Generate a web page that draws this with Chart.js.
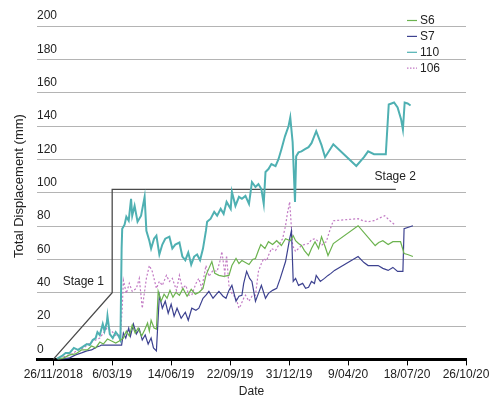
<!DOCTYPE html>
<html>
<head>
<meta charset="utf-8">
<script src="https://cdn.jsdelivr.net/npm/chart.js@4/dist/chart.umd.min.js"></script>
<style>
  html, body { margin: 0; padding: 0; background: #fff; }
  #wrap { width: 496px; height: 398px; }
</style>
</head>
<body>
<div id="wrap"><canvas id="c" width="496" height="398"></canvas></div>
<script>
// Survey days are counted from 26/11/2018 (day 0).
const tickDays = [0, 100, 200, 300, 400, 500, 600, 700];
const tickLabels = ['26/11/2018', '6/03/19', '14/06/19', '22/09/19', '31/12/19', '9/04/20', '18/07/20', '26/10/20'];
const yTicks = [0, 20, 40, 60, 80, 100, 120, 140, 160, 180, 200];

// Monitoring point S6
const daysS6 = [8,18,28,38,48,58,65,72,79,85,92,99,106,112,119,124,129,134,139,144,150,155,160,163,166,171,175,178,183,188,193,198,203,208,214,220,227,234,241,247,254,259,264,269,274,281,289,298,303,310,315,320,326,332,338,343,348,352,359,365,372,379,387,394,402,407,411,416,421,426,433,438,444,450,455,461,466,475,517,546,552,559,568,576,589,595,601,610];
const valsS6 = [0,0.9,2.7,3.3,5.7,5.7,8.0,6.9,10.4,9.2,12.2,11.0,9.8,11.0,12.8,17.0,14.0,20.6,15.8,18.8,14.0,17.6,21.8,17.0,23.5,18.8,18.2,40.8,34.9,39.1,36.7,41.4,37.3,40.2,38.5,42.6,37.9,42.0,39.1,40.2,42.6,50.4,54.6,58.7,51.6,50.4,49.8,50.4,56.3,60.5,57.5,59.3,58.1,56.9,59.9,60.5,65.3,68.9,66.5,70.6,68.9,71.2,68.3,72.4,71.2,74.2,71.2,69.5,68.3,65.3,62.3,66.5,70.6,66.5,73.6,67.7,62.3,69.5,80.2,68.3,70.1,71.2,68.9,70.6,70.6,63.5,62.9,61.7];

// Monitoring point S7
const daysS7 = [8,18,28,38,48,57,65,74,79,82,116,119,123,128,131,136,141,146,151,156,161,166,170,175,180,185,190,195,200,205,210,217,224,229,235,242,247,254,259,264,271,278,281,288,293,298,303,310,315,320,323,328,333,337,343,348,353,360,365,372,379,385,394,401,404,407,411,416,423,428,433,438,443,446,453,460,466,471,477,517,527,534,551,559,568,576,584,593,595,610];
const valsS7 = [0,0.3,0.9,2.7,3.9,5.1,5.7,7.5,8.0,8.6,8.6,15.8,12.8,18.8,14.0,21.2,15.2,18.2,11.6,14.6,9.2,12.8,6.9,5.1,38.5,30.7,34.9,27.7,33.1,25.9,30.7,24.7,28.3,23.5,30.7,29.5,30.7,36.7,38.5,40.8,36.7,39.6,40.8,37.9,36.7,41.4,44.4,34.9,37.9,38.5,45.6,52.8,48.6,46.8,34.9,39.6,44.4,36.7,39.6,41.4,42.6,48.6,58.7,72.4,77.2,46.8,48.6,44.4,45.6,42.6,43.2,46.8,45.6,50.4,46.8,48.6,50.4,51.6,53.4,61.7,58.1,56.3,56.3,54.6,53.4,55.2,52.8,52.8,78.4,80.2];

// Monitoring point 110
const days110 = [6,15,21,28,35,42,50,57,62,67,72,75,79,84,87,91,92,96,101,106,111,114,116,117,121,124,128,132,134,138,143,149,155,158,163,166,171,175,180,185,190,197,202,207,214,219,224,229,234,239,244,249,254,259,261,267,273,278,284,289,294,301,303,309,315,320,326,332,337,343,348,353,357,360,365,370,377,382,387,393,399,402,406,410,412,416,421,427,433,438,446,455,461,475,514,527,534,544,564,569,578,584,590,593,596,601,606];
const vals110 = [0.3,2.1,3.9,3.9,6.9,5.7,7.5,9.2,8.6,11.6,12.8,16.4,14.6,21.2,17.0,22.4,26.0,15.2,12.8,16.4,14.0,11.6,66.5,78.4,80.8,85.6,83.2,96.3,86.2,92.1,82.6,86.2,97.5,77.2,71.2,66.5,72.4,74.2,62.9,68.9,72.4,73.6,66.5,68.9,70.1,61.7,59.5,64.1,56.9,61.7,62.9,59.5,66.5,77.2,82.6,84.4,88.5,86.2,90.3,87.3,94.5,90.3,100.5,92.1,97.5,96.3,98.1,93.3,106.4,103.4,105.2,102.2,93.3,112.4,114.2,117.2,116.0,120.1,126.1,133.8,139.8,145.2,130.3,94.5,121.9,124.2,124.8,126.1,127.3,129.7,136.9,128.5,121.3,129.1,116.0,121.3,124.8,123.1,123.1,152.9,154.1,151.1,143.9,137.9,154.1,153.5,152.3];

// Monitoring point 106
const days106 = [11,21,32,42,52,62,72,79,85,91,99,107,114,117,119,124,129,134,141,146,151,158,163,168,175,180,185,192,197,202,209,214,219,225,230,235,242,247,252,259,264,271,278,283,286,291,294,298,303,310,315,318,323,326,332,337,343,348,353,357,362,365,370,377,382,389,394,397,401,406,411,416,421,426,433,438,444,450,455,460,463,470,475,517,525,534,544,551,562,571,579];
const vals106 = [0.3,2.1,3.3,5.7,6.9,9.8,11.6,12.8,15.8,18.8,17.0,14.0,14.6,30.7,47.4,39.6,45.6,40.8,42.6,48.6,30.7,48.6,56.3,52.8,42.6,46.8,44.4,50.4,46.8,48.6,41.4,50.4,42.6,44.4,38.5,38.5,45.6,48.6,42.6,56.3,49.8,53.4,52.8,59.3,64.7,51.6,62.3,44.4,39.6,36.7,30.7,32.5,36.7,38.5,34.9,37.9,38.5,52.8,57.5,60.5,59.3,62.3,66.5,65.3,68.3,72.4,80.2,87.3,94.5,68.3,64.7,66.5,68.3,68.9,69.5,71.8,72.4,70.6,68.3,70.1,70.6,78.4,83.2,84.4,83.2,82.6,83.2,84.4,86.2,83.2,80.8];

// Outline separating Stage 1 and Stage 2
const stageDays = [0, 100, 100, 581];
const stageVals = [0, 40, 102, 102];

function pairs(xs, ys) {
  const n = Math.min(xs.length, ys.length);
  const out = [];
  for (let i = 0; i < n; i++) out.push({ x: xs[i], y: ys[i] });
  return out;
}

const FONT = "'Liberation Sans', Arial, Helvetica, sans-serif";
Chart.defaults.font.family = FONT;
Chart.defaults.font.size = 12;
Chart.defaults.color = '#222';

function series(label, xs, ys, color, width, dash) {
  return {
    label, data: pairs(xs, ys), borderColor: color, backgroundColor: color,
    borderWidth: width, borderDash: dash || [], pointRadius: 0, tension: 0, fill: false
  };
}

const datasets = [
  series('S6', daysS6, valsS6, '#6cb34f', 1.2),
  series('S7', daysS7, valsS7, '#3d4290', 1.2),
  series('110', days110, vals110, '#4fb0b2', 2),
  series('106', days106, vals106, '#c27ac4', 1.2, [2, 2]),
  Object.assign(series('Stages', stageDays, stageVals, '#4a4a4a', 1.3), { inLegend: false })
];

const overlay = {
  id: 'overlay',
  afterDraw(chart) {
    const ctx = chart.ctx;
    const xs = chart.scales.x, ys = chart.scales.y;
    ctx.save();
    ctx.font = '12px ' + FONT;
    ctx.fillStyle = '#222';
    ctx.textBaseline = 'middle';

    // legend
    let ly = 20.5;
    chart.data.datasets.forEach(ds => {
      if (ds.inLegend === false) return;
      ctx.save();
      ctx.strokeStyle = ds.borderColor;
      ctx.lineWidth = 1.2;
      ctx.setLineDash(ds.borderDash && ds.borderDash.length ? [1.5, 1.5] : []);
      ctx.beginPath();
      ctx.moveTo(407, ly);
      ctx.lineTo(417, ly);
      ctx.stroke();
      ctx.restore();
      ctx.textAlign = 'left';
      ctx.fillText(ds.label, 420, ly + 0.5);
      ly += 15.9;
    });

    // stage labels
    ctx.textAlign = 'left';
    ctx.fillText('Stage 1', xs.getPixelForValue(16), ys.getPixelForValue(46.5));
    ctx.fillText('Stage 2', xs.getPixelForValue(545), ys.getPixelForValue(109.8));

    // y axis title
    ctx.font = '13px ' + FONT;
    ctx.translate(19, 186);
    ctx.rotate(-Math.PI / 2);
    ctx.textAlign = 'center';
    ctx.fillText('Total Displacement (mm)', 0, 0);
    ctx.restore();
  }
};

new Chart(document.getElementById('c'), {
  type: 'line',
  data: { datasets },
  options: {
    responsive: false,
    animation: false,
    layout: { padding: { left: 37, right: 30, top: 26, bottom: 0 } },
    plugins: { legend: { display: false }, tooltip: { enabled: false } },
    scales: {
      x: {
        type: 'linear',
        min: -27.5,
        max: 700,
        afterBuildTicks: axis => { axis.ticks = tickDays.map(v => ({ value: v })); },
        ticks: {
          autoSkip: false, maxRotation: 0, padding: 2, color: '#222',
          callback: v => { const i = tickDays.indexOf(v); return i >= 0 ? tickLabels[i] : ''; }
        },
        grid: { display: true, drawOnChartArea: false, drawTicks: true, tickLength: 6, color: '#000', lineWidth: 1 },
        border: { display: true, color: '#000', width: 3 },
        title: { display: true, text: 'Date', color: '#222', font: { size: 12, lineHeight: 1.1 }, padding: { top: 1, bottom: 0 } }
      },
      y: {
        type: 'linear',
        min: 0,
        max: 200,
        afterBuildTicks: axis => { axis.ticks = yTicks.map(v => ({ value: v })); },
        ticks: { mirror: true, padding: 0, labelOffset: -10, autoSkip: false, color: '#222' },
        grid: { color: '#b4b4b4', lineWidth: 1, drawTicks: false },
        border: { display: false }
      }
    }
  },
  plugins: [overlay]
});
</script>
</body>
</html>
